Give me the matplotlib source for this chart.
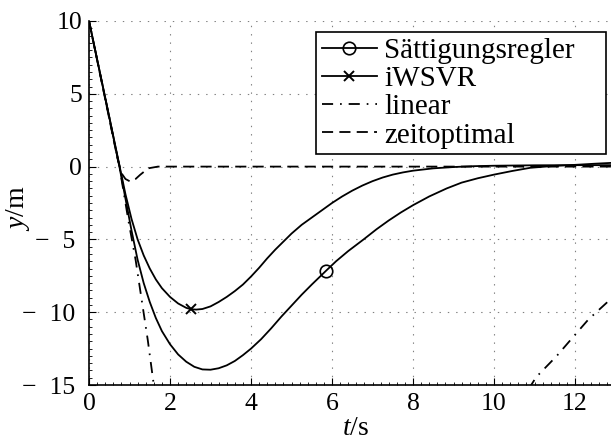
import numpy as np
import matplotlib
matplotlib.use('Agg')
import matplotlib.pyplot as plt
import matplotlib.ticker as mtick

# global style
matplotlib.rcParams['font.family'] = 'Liberation Serif'
matplotlib.rcParams['mathtext.fontset'] = 'custom'
matplotlib.rcParams['mathtext.rm'] = 'Liberation Serif'
matplotlib.rcParams['mathtext.it'] = 'Liberation Serif:italic'
matplotlib.rcParams['lines.scale_dashes'] = False

# Saettigungsregler
t_sat = [0, 0.25, 0.5, 0.75, 0.9, 1.05, 1.2, 1.35, 1.5, 1.65, 1.8, 2.0, 2.2, 2.4, 2.6, 2.8,
         3.0, 3.2, 3.4, 3.6, 3.8, 4.0, 4.25, 4.5, 4.75, 5.0, 5.25, 5.5, 5.85, 6.1, 6.4, 6.78,
         7.1, 7.4, 7.7, 8.0, 8.4, 8.83, 9.2, 9.6, 10.0, 10.45, 10.9, 11.5, 12.0, 12.5, 13.0]
y_sat = [10, 6.7, 3.4, 0.0, -2.2, -4.4, -6.4, -8.0, -9.3, -10.4, -11.3, -12.2, -12.9, -13.4,
         -13.75, -13.93, -13.95, -13.85, -13.65, -13.35, -12.95, -12.5, -11.85, -11.1, -10.3,
         -9.55, -8.8, -8.1, -7.16, -6.5, -5.8, -5.0, -4.3, -3.7, -3.15, -2.65, -2.05, -1.5,
         -1.1, -0.8, -0.55, -0.3, -0.08, 0.05, 0.12, 0.2, 0.27]
t_sat_marker = 5.85

# iWSVR
t_iw = [0, 0.25, 0.5, 0.75, 0.9, 1.05, 1.2, 1.35, 1.5, 1.65, 1.8, 2.0, 2.2, 2.4, 2.52, 2.65,
        2.8, 3.0, 3.2, 3.4, 3.6, 3.8, 4.0, 4.2, 4.4, 4.6, 4.8, 5.0, 5.25, 5.5, 5.75, 6.0,
        6.25, 6.5, 6.75, 7.0, 7.25, 7.5, 7.75, 8.0, 8.5, 9.0, 9.5, 10.0, 11.0, 12.0, 13.0]
y_iw = [10, 6.7, 3.4, 0.1, -1.9, -3.6, -5.0, -6.1, -7.0, -7.75, -8.35, -8.95, -9.4, -9.7,
        -9.8, -9.82, -9.78, -9.6, -9.3, -8.95, -8.55, -8.1, -7.55, -6.95, -6.3, -5.7, -5.15,
        -4.6, -4.0, -3.5, -3.0, -2.5, -2.05, -1.65, -1.3, -1.0, -0.75, -0.55, -0.4, -0.28,
        -0.12, -0.03, 0.03, 0.06, 0.09, 0.1, 0.1]
t_iw_marker = 2.52

# linear (leaves the plot between the two parts)
t_lin = [0, 0.4, 0.75, 0.97, 1.15, 1.3, 1.45, 1.58, 1.64, np.nan,
         10.85, 11.04, 11.55, 12.0, 12.33, 12.86, 13.0]
y_lin = [10, 4.7, 0.0, -3.67, -6.4, -9.15, -11.9, -14.6, -15.8, np.nan,
         -15.3, -14.46, -13.0, -11.55, -10.5, -9.15, -8.8]

# zeitoptimal
t_zo = [0, 0.35, 0.7, 0.8, 0.9, 1.02, 1.15, 1.26, 1.46, 1.7, 13.0]
y_zo = [10, 5.3, 0.6, -0.45, -0.85, -1.03, -0.85, -0.57, -0.12, 0.0, 0.0]

yticks = [-15, -10, -5, 0, 5, 10]
yticklabels = ['\u2212  15 ', '\u2212  10 ', '\u2212  5 ', '0', '5', '10']
xticks = [0, 2, 4, 6, 8, 10, 12]

fig = plt.figure(figsize=(6.11, 4.43), dpi=100)
ax = fig.add_axes([0.1457, 0.1309, 0.8617, 0.8217])

lw = 1.3
ax.plot(t_sat, y_sat, 'k-', linewidth=lw, marker='o', markersize=9, markerfacecolor='none',
        markeredgewidth=1.2, markevery=[t_sat.index(t_sat_marker)], label='Sättigungsregler')
ax.plot(t_iw, y_iw, 'k-', linewidth=lw, marker='x', markersize=7, markeredgewidth=1.4,
        markevery=[t_iw.index(t_iw_marker)], label='iWSVR')
ax.plot(t_lin, y_lin, color='k', linewidth=lw, dashes=(8, 5, 1.2, 5), label='linear')
ax.plot(t_zo, y_zo, color='k', linewidth=lw, dashes=(8, 4.5), label='zeitoptimal')

ax.set_xlim(0, 13)
ax.set_ylim(-15, 10)
ax.set_xticks(xticks)
ax.set_yticks(yticks)
ax.set_yticklabels(yticklabels)
ax.xaxis.set_minor_locator(mtick.MultipleLocator(0.2))
ax.yaxis.set_minor_locator(mtick.MultipleLocator(0.5))
ax.tick_params(which='both', direction='in', labelsize=18.5, top=False, right=False)
ax.tick_params(which='major', length=5, width=0.8)
ax.tick_params(which='minor', length=2.5, width=0.6)
ax.tick_params(axis='y', pad=5)
ax.tick_params(axis='x', pad=6)

for s in ['top', 'right']:
    ax.spines[s].set_visible(False)
for s in ['left', 'bottom']:
    ax.spines[s].set_linewidth(1.2)

ax.grid(True, which='major', color='0.5', linewidth=0.8, linestyle=(0, (1, 5)))

ax.set_xlabel(r'$t$/s', fontsize=20)
ax.set_ylabel(r'$y$/m', fontsize=20)
ax.xaxis.set_label_coords(0.507, -0.085)
ax.yaxis.set_label_coords(-0.108, 0.486)

# legend box stretched to the reference width (316..606 px, top at 32 px)
leg = ax.legend(loc='upper left', bbox_to_anchor=(0.517, 0.6, 0.475, 0.328), mode='expand',
                bbox_transform=fig.transFigure,
                fontsize=21, fancybox=False, framealpha=1, edgecolor='k', labelspacing=0.06,
                handlelength=1.9, handletextpad=0.25, borderpad=0.2, borderaxespad=0)
leg.get_frame().set_linewidth(1.2)

fig.savefig('out.png', dpi=100)
